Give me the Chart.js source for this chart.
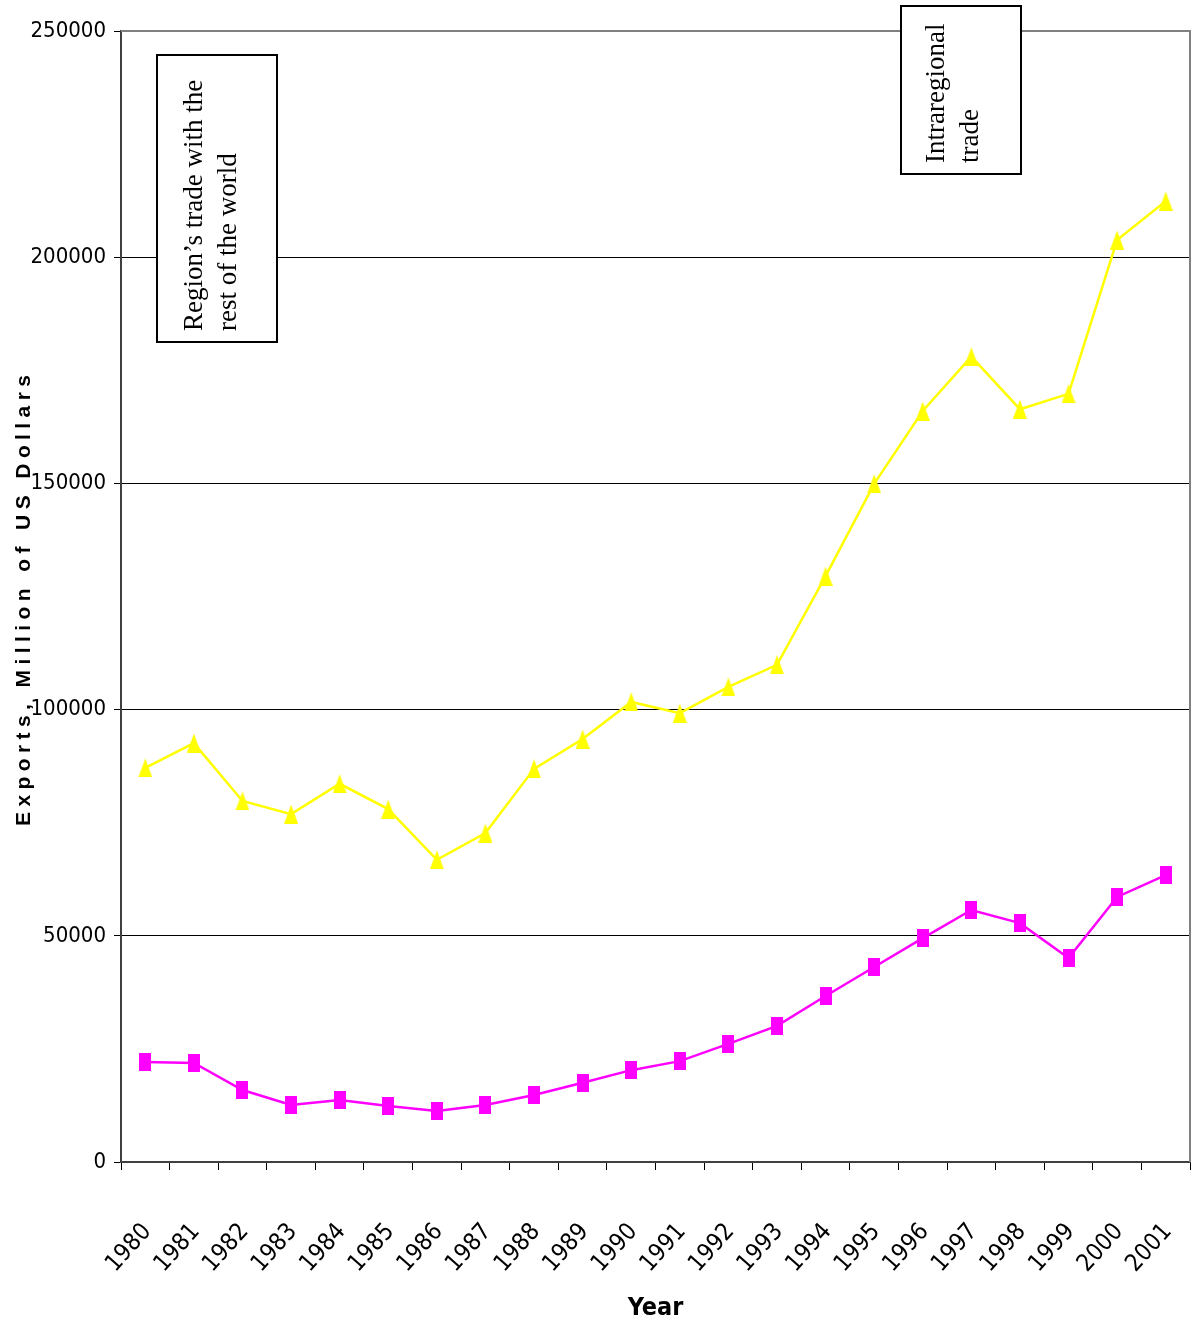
<!DOCTYPE html>
<html>
<head>
<meta charset="utf-8">
<script src="https://cdn.jsdelivr.net/npm/chart.js@4.4.1/dist/chart.umd.min.js"></script>
<style>
  body { margin: 0; background: #fff; }
  #wrap { width: 1192px; height: 1323px; position: relative; }
</style>
</head>
<body>
<div id="wrap"><canvas id="chart"></canvas></div>
<script>
const years = ['1980', '1981', '1982', '1983', '1984', '1985', '1986', '1987', '1988', '1989', '1990',
  '1991', '1992', '1993', '1994', '1995', '1996', '1997', '1998', '1999', '2000', '2001'];

// Region's trade with the rest of the world (yellow)
const restOfWorld = [87100, 92600, 79800, 76900, 83600, 78000, 66800, 72700, 86900, 93500, 101700,
  99200, 105000, 109900, 129500, 149900, 166000, 178000, 166400, 169800, 203800, 212400];

// Intraregional trade (magenta)
const intraregional = [22100, 21900, 15900, 12600, 13700, 12400, 11300, 12600, 14800, 17500, 20300,
  22300, 26100, 30100, 36700, 43100, 49500, 55700, 52800, 45100, 58600, 63400];

const yTicks = [0, 50000, 100000, 150000, 200000, 250000];

const yTitle = 'Exports, Million of US Dollars';
const xTitle = 'Year';

const boxLabels = [
  ['Region\u2019s trade with the', 'rest of the world'],
  ['Intraregional', 'trade']
];

const narrow = "'DejaVu Sans Condensed', 'Liberation Sans Narrow', 'Arial Narrow', 'Liberation Sans', sans-serif";

// marker images (taller than wide, like the original)
function triangleMarker(color) {
  const c = document.createElement('canvas');
  c.width = 14; c.height = 19;
  const g = c.getContext('2d');
  g.fillStyle = color;
  g.beginPath();
  g.moveTo(7, 0); g.lineTo(14, 19); g.lineTo(0, 19);
  g.closePath(); g.fill();
  return c;
}
function rectMarker(color) {
  const c = document.createElement('canvas');
  c.width = 12; c.height = 18;
  const g = c.getContext('2d');
  g.fillStyle = color;
  g.fillRect(0, 0, 12, 18);
  return c;
}

// gray frame on top/right, the letter-spaced y title and the two text boxes
const framePlugin = {
  id: 'frame',
  beforeDatasetsDraw(chart) {
    const { ctx, chartArea: a } = chart;
    ctx.save();
    ctx.strokeStyle = '#808080';
    ctx.lineWidth = 2;
    ctx.beginPath();
    ctx.moveTo(a.left, a.top);
    ctx.lineTo(a.right, a.top);
    ctx.lineTo(a.right, a.bottom);
    ctx.stroke();
    ctx.restore();
  },
  afterDraw(chart) {
    const { ctx, chartArea: a } = chart;
    ctx.save();
    // y axis title, spread out like the original
    ctx.font = "bold 21px 'Liberation Sans', Arial, sans-serif";
    ctx.fillStyle = '#000';
    const plain = ctx.measureText(yTitle).width;
    const spacing = Math.max(0, (451 - plain) / (yTitle.length - 1));
    ctx.letterSpacing = spacing.toFixed(2) + 'px';
    ctx.translate(30, (a.top + a.bottom) / 2 + 4);
    ctx.rotate(-Math.PI / 2);
    ctx.textAlign = 'center';
    ctx.textBaseline = 'alphabetic';
    ctx.fillText(yTitle, spacing / 2, 0);
    ctx.restore();

    const boxes = [
      { x: 157, y: 55, w: 120, h: 287, lines: boxLabels[0], lx: [195, 229], by: 331 },
      { x: 901, y: 6, w: 120, h: 168, lines: boxLabels[1], lx: [937, 971], by: 163 }
    ];
    ctx.save();
    boxes.forEach(b => {
      ctx.fillStyle = '#fff';
      ctx.fillRect(b.x, b.y, b.w, b.h);
      ctx.strokeStyle = '#000';
      ctx.lineWidth = 2;
      ctx.strokeRect(b.x, b.y, b.w, b.h);
      ctx.fillStyle = '#000';
      ctx.font = "27px 'Liberation Serif', 'Times New Roman', serif";
      ctx.textAlign = 'left';
      ctx.textBaseline = 'middle';
      b.lines.forEach((t, i) => {
        ctx.save();
        ctx.translate(b.lx[i], b.by);
        ctx.rotate(-Math.PI / 2);
        ctx.fillText(t, 0, 0);
        ctx.restore();
      });
    });
    ctx.restore();
  }
};

new Chart(document.getElementById('chart'), {
  type: 'line',
  data: {
    labels: years,
    datasets: [
      {
        label: 'Region\u2019s trade with the rest of the world',
        data: restOfWorld,
        borderColor: '#ffff00',
        backgroundColor: '#ffff00',
        borderWidth: 2.5,
        pointStyle: triangleMarker('#ffff00'),
        fill: false,
        tension: 0
      },
      {
        label: 'Intraregional trade',
        data: intraregional,
        borderColor: '#ff00ff',
        backgroundColor: '#ff00ff',
        borderWidth: 2.5,
        pointStyle: rectMarker('#ff00ff'),
        fill: false,
        tension: 0
      }
    ]
  },
  options: {
    responsive: true,
    maintainAspectRatio: false,
    animation: false,
    layout: { autoPadding: false, padding: { top: 31, right: 2, left: 0, bottom: 0 } },
    plugins: {
      legend: { display: false },
      tooltip: { enabled: false }
    },
    scales: {
      x: {
        offset: true,
        grid: { offset: true, drawOnChartArea: false, color: '#000', tickLength: 8, tickWidth: 1 },
        border: { color: '#404040', width: 2 },
        ticks: {
          color: '#000',
          font: { family: narrow, size: 24 },
          minRotation: 48,
          maxRotation: 48,
          labelOffset: 2,
          padding: 48,
          autoSkip: false
        },
        title: {
          display: true,
          text: xTitle,
          color: '#000',
          font: { family: narrow, size: 25, weight: 'bold' },
          padding: { top: 0, bottom: 0 }
        },
        afterFit(scale) {
          scale.height = 161;
          scale.paddingLeft = 0;
          scale.paddingRight = 0;
        }
      },
      y: {
        min: 0,
        max: 250000,
        afterBuildTicks(scale) { scale.ticks = yTicks.map(v => ({ value: v })); },
        grid: { color: '#000', lineWidth: 1, tickLength: 7 },
        border: { color: '#404040', width: 2 },
        ticks: {
          color: '#000',
          font: { family: narrow, size: 22 },
          padding: 8,
          callback: v => String(v)
        },
        afterFit(scale) {
          scale.width = 121;
          scale.paddingTop = 0;
          scale.paddingBottom = 0;
        }
      }
    }
  },
  plugins: [framePlugin]
});
</script>
</body>
</html>
